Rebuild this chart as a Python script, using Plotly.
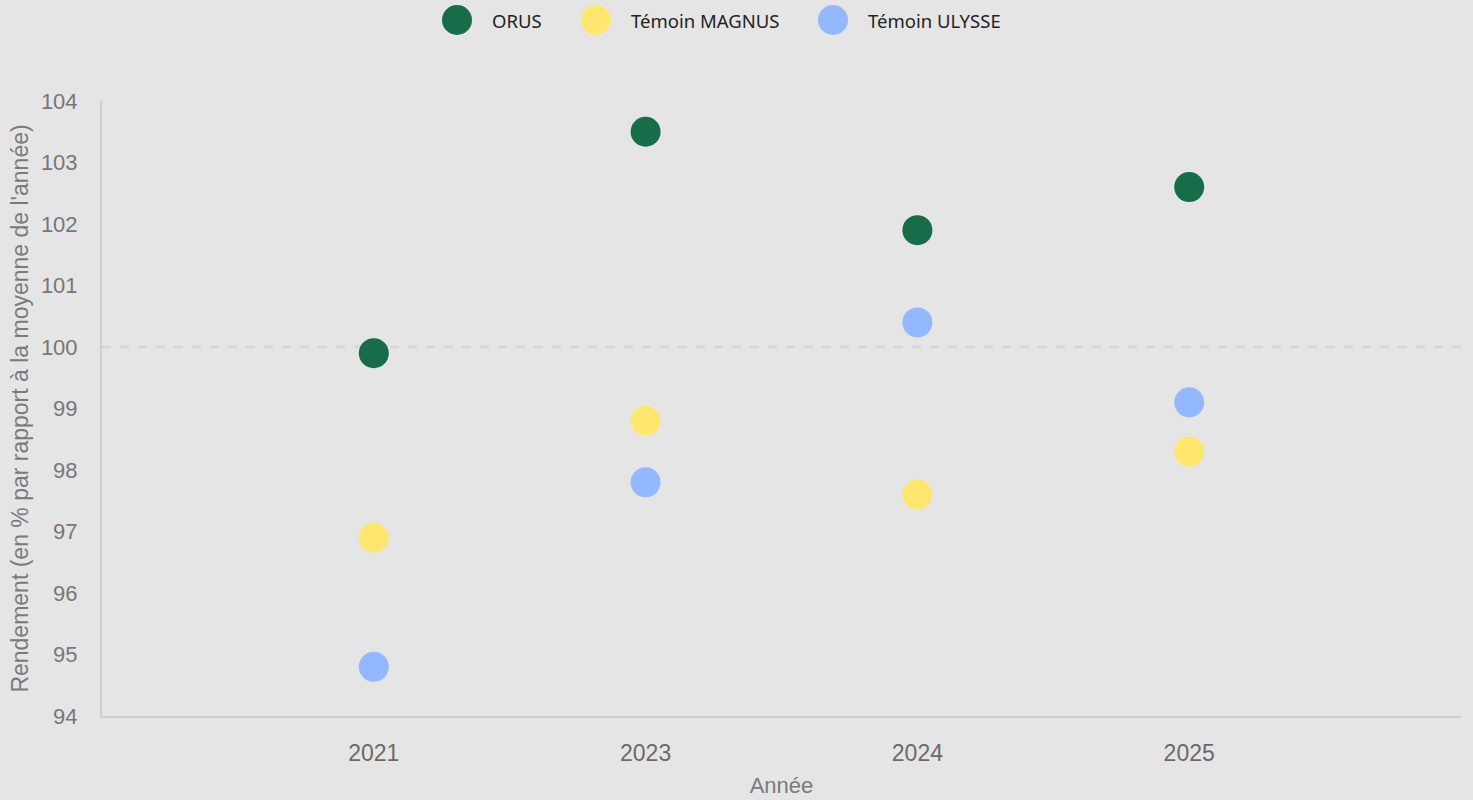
import plotly.graph_objects as go

years = ["2021", "2023", "2024", "2025"]
orus = [99.9, 103.5, 101.9, 102.6]
magnus = [96.9, 98.8, 97.6, 98.3]
ulysse = [94.8, 97.8, 100.4, 99.1]
series_names = ["ORUS", "Témoin MAGNUS", "Témoin ULYSSE"]
series_colors = ["#176C4A", "#FFE66D", "#94B8FF"]
y_ticks = list(range(94, 105))

W, H = 1473, 800
L, R, T, B = 102, 12, 101, 84
pw, ph = W - L - R, H - T - B

fig = go.Figure()
for name, vals, col in zip(series_names, [orus, magnus, ulysse], series_colors):
    fig.add_trace(go.Scatter(
        x=years, y=vals, mode="markers", name=name,
        marker=dict(size=30, color=col, line=dict(width=0)),
        showlegend=False,
    ))

# reference dashed line at 100
fig.add_shape(type="line", xref="paper", x0=0, x1=1, yref="y", y0=100, y1=100,
              line=dict(color="#D6D6D6", width=2.5, dash="dash"), layer="below")

# custom legend (large circular symbols)
leg_centers = [457, 596, 833]
for name, col, cx in zip(series_names, series_colors, leg_centers):
    x0 = (cx - 15 - L) / pw
    x1 = (cx + 15 - L) / pw
    y0 = (H - B - 35) / ph
    y1 = (H - B - 5) / ph
    fig.add_shape(type="circle", xref="paper", yref="paper", x0=x0, x1=x1, y0=y0, y1=y1,
                  fillcolor=col, line=dict(width=0))
    fig.add_annotation(text=name, xref="paper", yref="paper",
                       x=(cx + 33 - L) / pw, y=(H - B - 20) / ph,
                       xanchor="left", yanchor="middle", showarrow=False,
                       font=dict(family="Noto Sans, sans-serif", size=18.5, color="#222222"))

fig.update_layout(
    width=W, height=H,
    margin=dict(l=L, r=R, t=T, b=B),
    paper_bgcolor="#E5E5E5", plot_bgcolor="#E5E5E5",
    showlegend=False,
    font=dict(family="Liberation Sans, Arial, sans-serif", color="#666666", size=16),
)
fig.update_xaxes(
    type="category", categoryorder="array", categoryarray=years,
    range=[-1, 4], showgrid=False, zeroline=False, automargin=False,
    showline=True, linecolor="#CFCFCF", linewidth=2,
    ticks="", tickfont=dict(size=23, color="#6A6A6A"), ticklabelstandoff=15,
    title=dict(text="Année", font=dict(size=22, color="#7A7A7A"), standoff=13),
)
fig.update_yaxes(
    range=[94, 104], tickvals=y_ticks, showgrid=False, zeroline=False, automargin=False,
    showline=True, linecolor="#CFCFCF", linewidth=2,
    ticks="", tickfont=dict(size=22, color="#777777"), ticklabelstandoff=18,
    title=dict(text="Rendement (en % par rapport à la moyenne de l'année)",
               font=dict(size=23, color="#7A7A7A"), standoff=6),
)

fig.write_html("out.html", config={"displayModeBar": False},
               post_script="document.body.style.margin='0';")
